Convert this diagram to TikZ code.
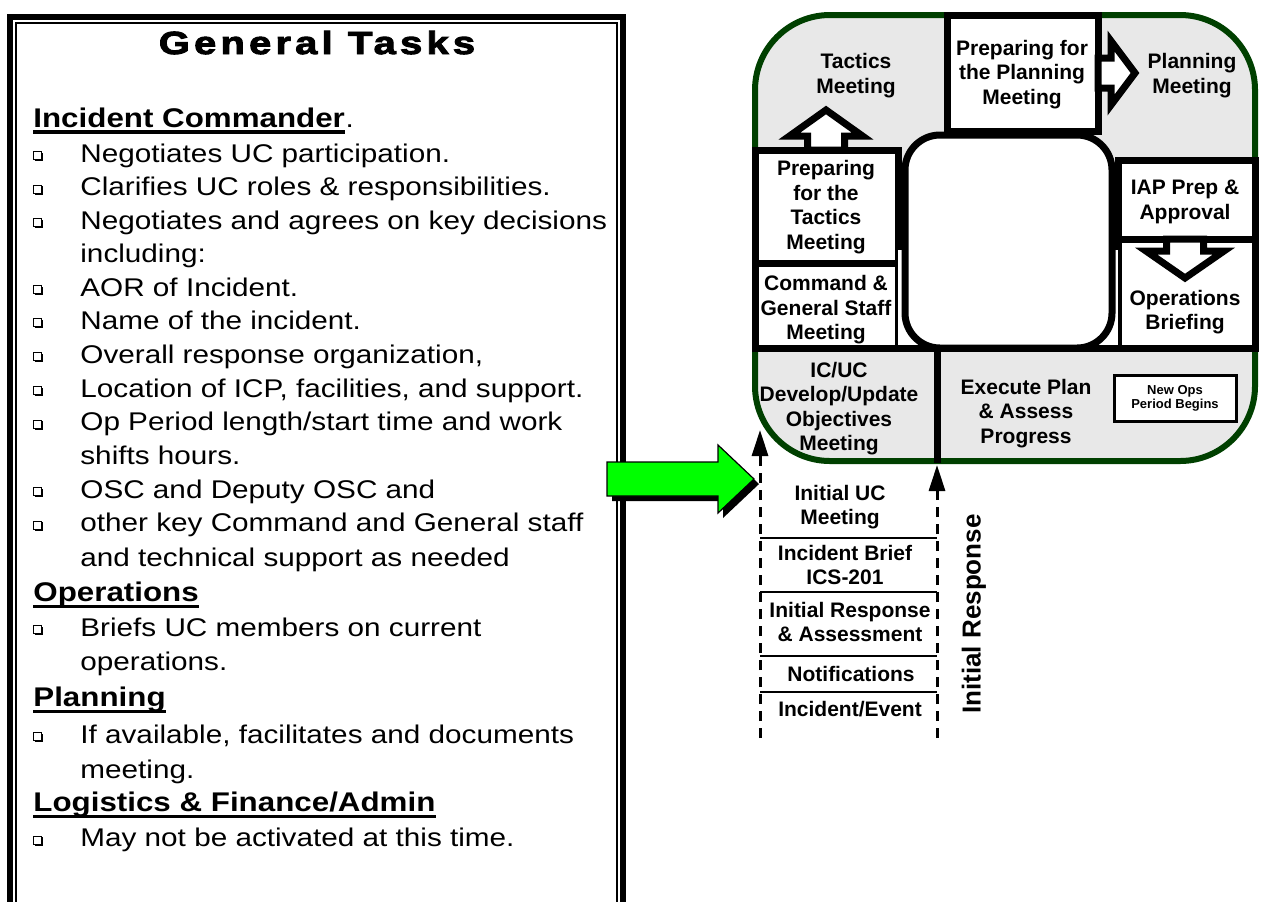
\documentclass[tikz,border=0pt]{standalone}
\usepackage{fontspec}
\setmainfont{Liberation Sans}
\newfontfamily\taskfont[FakeStretch=1.16]{Liberation Sans}
\newfontfamily\titlefont[FakeStretch=1.25,LetterSpace=13,FakeBold=3]{Liberation Sans}
\usepackage{tikz}
\usetikzlibrary{arrows.meta}
\definecolor{framegreen}{RGB}{0,64,0}
\definecolor{bandgray}{RGB}{232,232,232}
\definecolor{limegreen}{RGB}{0,255,0}
\newcommand{\qbox}[1]{%
  \draw[line width=0.5pt] (33.5,#1-10.5) rectangle (41.5,#1-2.5);
  \draw[line width=0.8pt] (34.5,#1-1.7) -- (42.4,#1-1.7) -- (42.4,#1-9.5);}
\newcommand{\rulebelow}[1]{\draw[line width=1.6pt] ([yshift=-2.5pt]#1.base west) -- ([yshift=-2.5pt]#1.base east);}
\tikzset{
  task/.style={anchor=base west, inner sep=0pt, font=\taskfont\fontsize{12.8}{15}\selectfont},
  head/.style={task, font=\taskfont\bfseries\fontsize{13.5}{16}\selectfont},
  stage/.style={align=center, inner sep=0pt, font=\bfseries\fontsize{10.5}{12.25}\selectfont},
  wall/.style={line width=3.5pt, line join=miter},
  cell/.style={wall, draw=black, fill=white},
  rung/.style={line width=1.4pt},
  trail/.style={line width=1.5pt, dash pattern=on 5pt off 3.5pt, -{Triangle[length=13pt,width=8pt]}},
}
\begin{document}
\begin{tikzpicture}[x=0.5pt, y=-0.5pt]
      \useasboundingbox (0,0) rectangle (1261,901);

      % task sheet
      \draw[line width=3pt] (10,920) -- (10,17) -- (623,17) -- (623,920);
      \draw[line width=1pt] (15.7,920) -- (15.7,23) -- (617,23) -- (617,920);

      \node[font=\titlefont\bfseries\fontsize{16}{19}\selectfont, anchor=base, inner sep=0pt] (title) at (317,54) {General Tasks};

      \node[head] (ic) at (33,127) {Incident Commander};
      \node[task] (icdot) at (ic.base east) {.};
      \rulebelow{ic}
      \qbox{162}   \node[task] (neg) at (80,162) {Negotiates UC participation.};
      \qbox{195.5} \node[task] (clar) at (80,195.5) {Clarifies UC roles \& responsibilities.};
      \qbox{229}   \node[task] (agree) at (80,229) {Negotiates and agrees on key decisions};
                   \node[task] (incl) at (80,262) {including:};
      \qbox{296}   \node[task] (aor) at (80,296) {AOR of Incident.};
      \qbox{329}   \node[task] (name) at (80,329) {Name of the incident.};
      \qbox{363}   \node[task] (org) at (80,363) {Overall response organization,};
      \qbox{397}   \node[task] (icp) at (80,397) {Location of ICP, facilities, and support.};
      \qbox{430.5} \node[task] (oplen) at (80,430.5) {Op Period length/start time and work};
                   \node[task] (shift) at (80,464) {shifts hours.};
      \qbox{498}   \node[task] (osc) at (80,498) {OSC and Deputy OSC and};
      \qbox{531.5} \node[task] (staff) at (80,531.5) {other key Command and General staff};
                   \node[task] (tech) at (80,566) {and technical support as needed};

      \node[head] (opshd) at (33,601.5) {Operations};
      \rulebelow{opshd}
      \qbox{636}   \node[task] (ucbrief) at (80,636) {Briefs UC members on current};
                   \node[task] (curops) at (80,670) {operations.};

      \node[head] (planhd) at (33,706.5) {Planning};
      \rulebelow{planhd}
      \qbox{743}   \node[task] (avail) at (80,743) {If available, facilitates and documents};
                   \node[task] (docmeet) at (80,778) {meeting.};

      \node[head] (logihd) at (33,811.5) {Logistics \& Finance/Admin};
      \rulebelow{logihd}
      \qbox{846.5} \node[task] (notyet) at (80,846.5) {May not be activated at this time.};

      % green block arrow
      \fill[black, shift={(5,5)}] (607,462) -- (718,462) -- (718,445) -- (754,479) -- (718,513) -- (718,496) -- (607,496) -- cycle;
      \filldraw[fill=limegreen, draw=black, line width=0.6pt] (607,462) -- (718,462) -- (718,445) -- (754,479) -- (718,513) -- (718,496) -- (607,496) -- cycle;

      % planning cycle
      \filldraw[fill=bandgray, draw=framegreen, line width=3pt, rounded corners=37.5pt] (755,15) rectangle (1255,461);

      \draw[cell] (947,15) rectangle (1098,131);
      \draw[cell] (755,150) rectangle (898,263);
      \draw[cell] (755,263) rectangle (898,348);
      \draw[cell] (1118,160) rectangle (1255,239);
      \draw[cell] (1118,239) rectangle (1255,348);
      \fill[white] (898,250) rectangle (1118,348);
      \draw[cell, rounded corners=17.5pt] (905,135) rectangle (1112,348);
      \draw[wall] (755,348) -- (1255,348);
      \draw[wall] (937,348) -- (937,463);

      \filldraw[wall, fill=white] (807.5,150) -- (807.5,136) -- (789.5,136) -- (826,110) -- (862.5,136) -- (844.5,136) -- (844.5,150) -- cycle;
      \filldraw[wall, fill=white] (1098,58) -- (1111,58) -- (1111,41) -- (1135,73) -- (1111,105) -- (1111,88) -- (1098,88) -- cycle;
      \filldraw[wall, fill=white] (1166.5,239) -- (1166.5,251) -- (1146,251) -- (1185,278) -- (1224,251) -- (1203.5,251) -- (1203.5,239) -- cycle;

      \node[stage] (tac) at (856,75.5) {Tactics\\Meeting};
      \node[stage] (prepplan) at (1022,74.5) {Preparing for\\the Planning\\Meeting};
      \node[stage] (plan) at (1192,75.5) {Planning\\Meeting};
      \node[stage] (preptac) at (826,207) {Preparing\\for the\\Tactics\\Meeting};
      \node[stage] (iap) at (1185,202) {IAP Prep \&\\Approval};
      \node[stage] (cgs) at (826,310) {Command \&\\General Staff\\Meeting};
      \node[stage] (opsbrief) at (1185,312) {Operations\\Briefing};
      \node[stage] (objmeet) at (839,408.5) {IC/UC\\Develop/Update\\Objectives\\Meeting};
      \node[stage] (exec) at (1026,413.5) {Execute Plan\\\& Assess\\Progress};
      \node[draw, line width=1.5pt, fill=white, minimum width=61pt, minimum height=23pt, align=center,
            font=\bfseries\fontsize{6.5}{7}\selectfont] (newop) at (1175,398) {New Ops\\Period Begins};

      % initial response
      \coordinate (lfoot) at (760,738);
      \coordinate (ltip) at (760,430);
      \coordinate (rfoot) at (937,738);
      \coordinate (rtip) at (937,465);
      \draw[trail] (lfoot) -- (ltip);
      \draw[trail] (rfoot) -- (rtip);

      \draw[rung] (760,538) -- (937,538);
      \draw[rung] (760,592) -- (937,592);
      \draw[rung] (760,656) -- (937,656);
      \draw[rung] (760,692) -- (937,692);

      \node[stage] (ucmeet) at (840,507) {Initial UC\\Meeting};
      \node[stage] (brief201) at (845,565) {Incident Brief\\ICS-201};
      \node[stage] (assess) at (850,622) {Initial Response\\\& Assessment};
      \node[stage] (notif) at (851,674) {Notifications};
      \node[stage] (event) at (850,709) {Incident/Event};

      \node[font=\bfseries\fontsize{13}{15}\selectfont, rotate=90, inner sep=0pt] (resp) at (974,614) {Initial Response};
\end{tikzpicture}
\end{document}
